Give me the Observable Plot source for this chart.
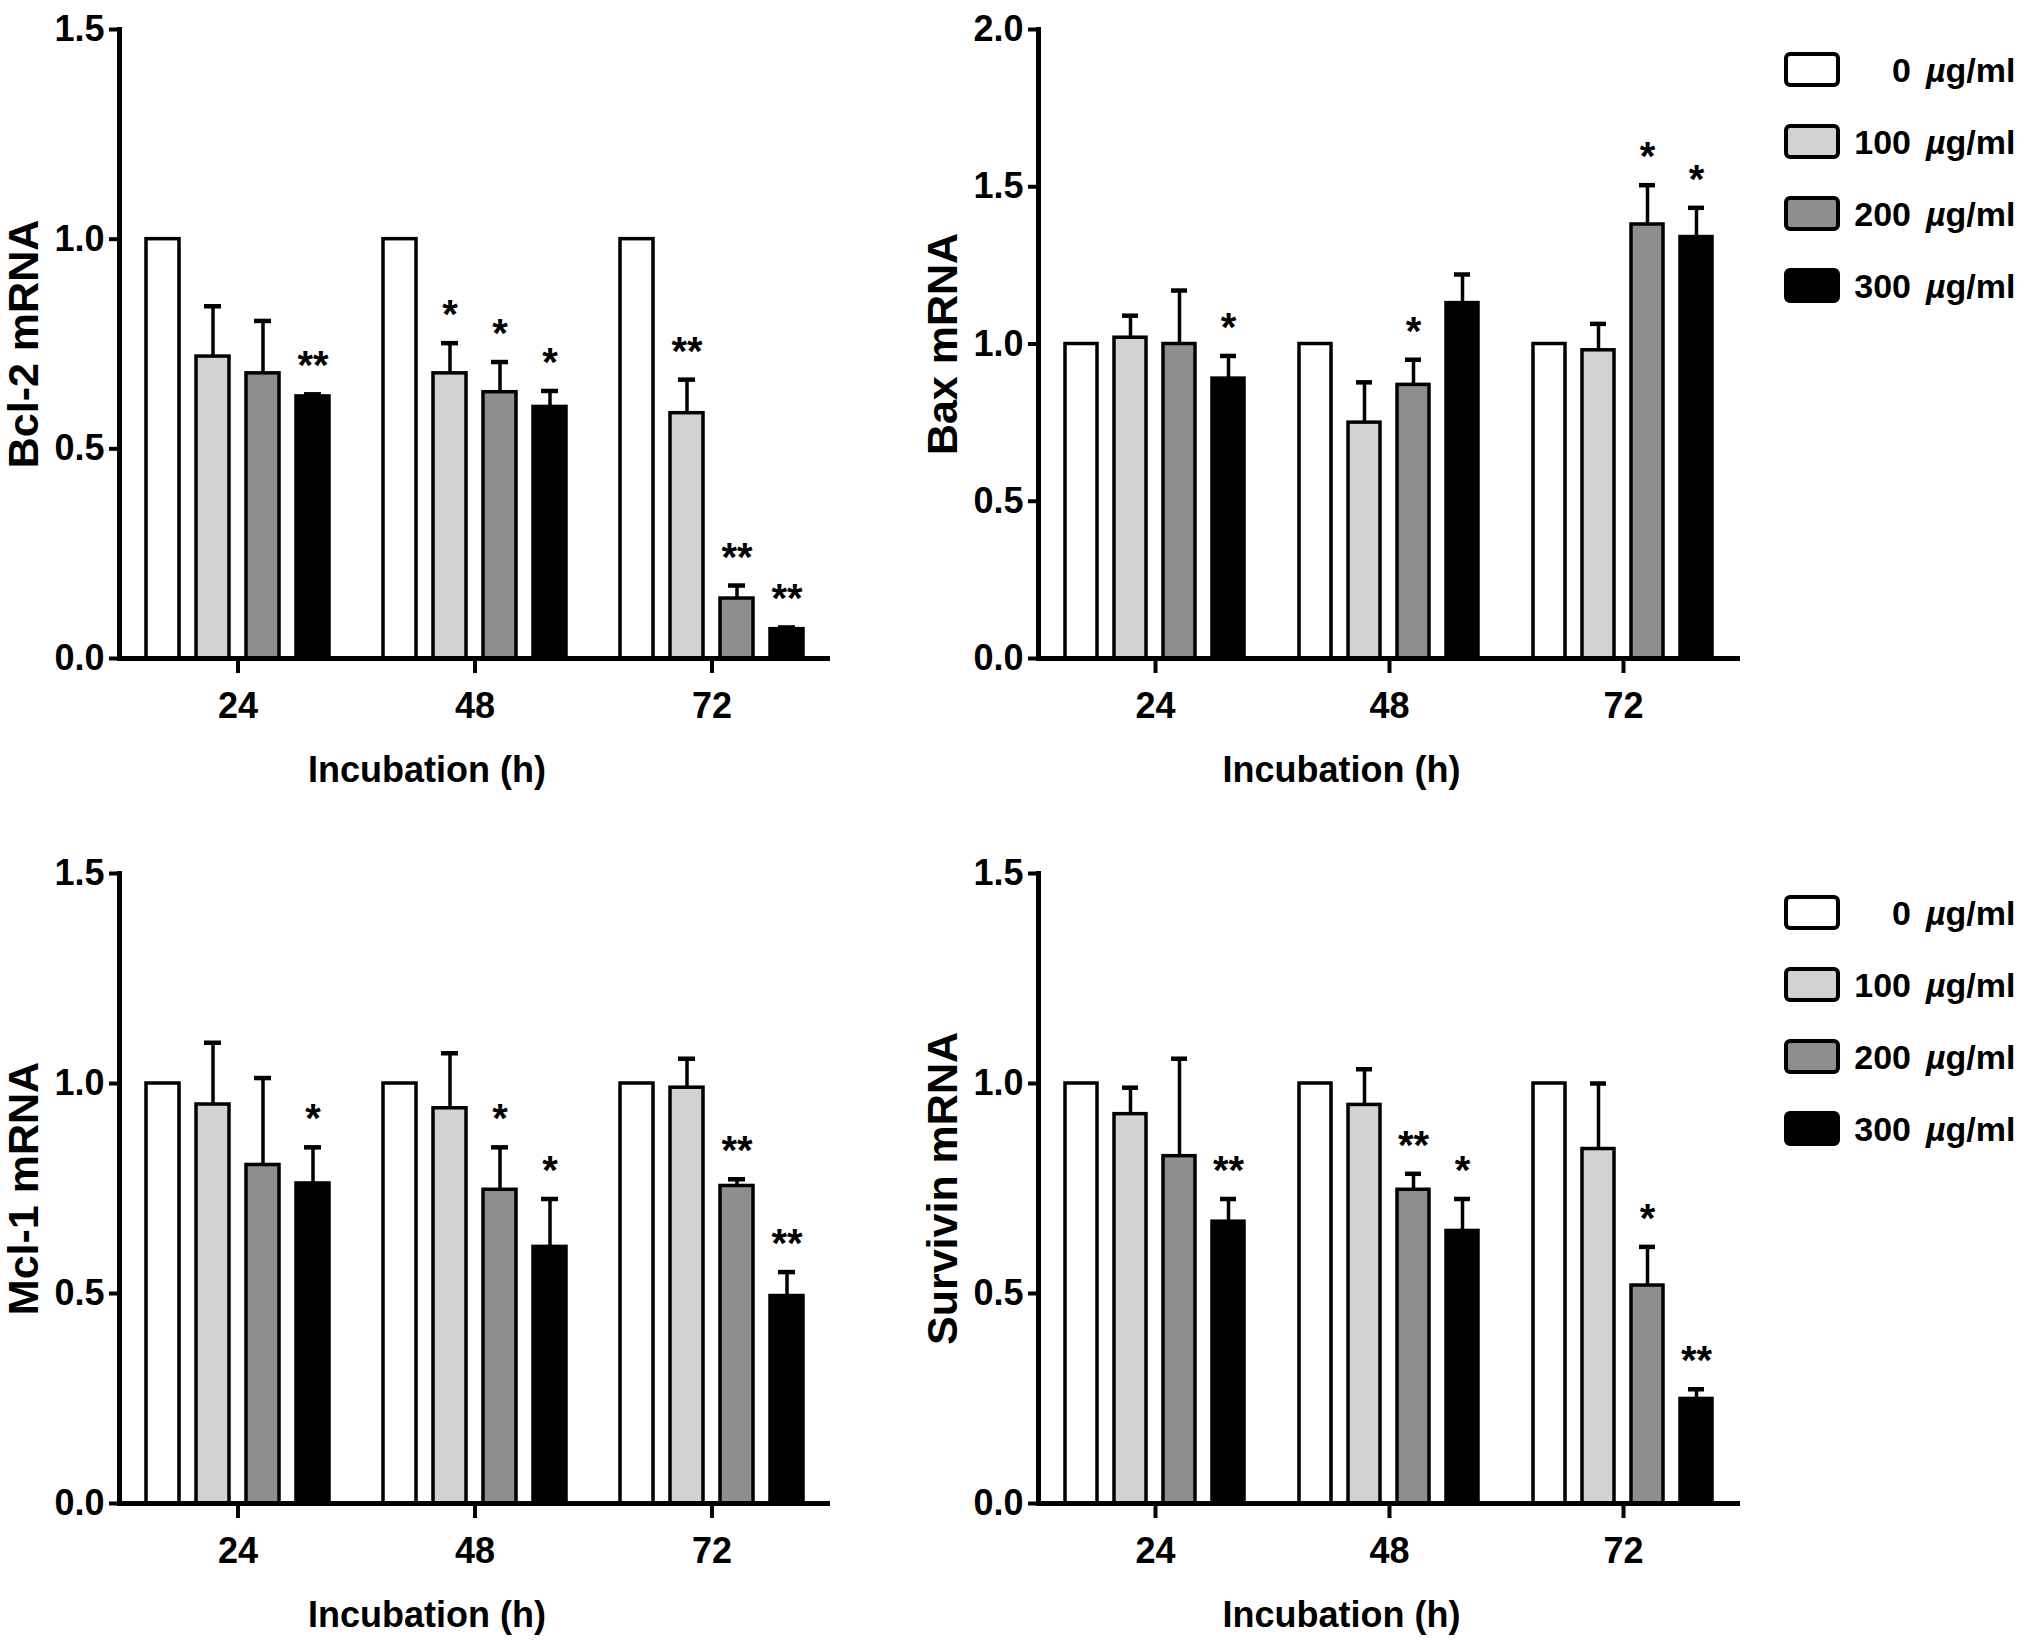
<!DOCTYPE html>
<html>
<head>
<meta charset="utf-8">
<script src="https://cdn.jsdelivr.net/npm/d3@7"></script>
<script src="https://cdn.jsdelivr.net/npm/@observablehq/plot@0.6"></script>
<style>
  body { margin: 0; background: #fff; }
  #page { position: relative; width: 2031px; height: 1652px; font-family: "Liberation Sans", Arial, sans-serif; }
  .panel { position: absolute; }
</style>
</head>
<body>
<div id="page"></div>
<script>
const times = [24, 48, 72]
const doses = ["0", "100", "200", "300"]
const doseFills = ["#ffffff", "#d2d2d2", "#8e8e8e", "#000000"]
const ticks15 = [0, 0.5, 1.0, 1.5]
const ticks20 = [0, 0.5, 1.0, 1.5, 2.0]

// rows = 24 / 48 / 72 h, columns = 0 / 100 / 200 / 300 ug/ml
const bcl2Mean = [[1, 0.72, 0.68, 0.625], [1, 0.68, 0.635, 0.60], [1, 0.585, 0.143, 0.07]]
const bcl2Err  = [[0, 0.12, 0.125, 0.005], [0, 0.072, 0.072, 0.038], [0, 0.08, 0.031, 0.004]]
const bcl2Sig  = [["", "", "", "**"], ["", "*", "*", "*"], ["", "**", "**", "**"]]

const baxMean = [[1, 1.02, 1.0, 0.89], [1, 0.75, 0.87, 1.13], [1, 0.98, 1.38, 1.34]]
const baxErr  = [[0, 0.07, 0.17, 0.072], [0, 0.128, 0.08, 0.091], [0, 0.084, 0.125, 0.093]]
const baxSig  = [["", "", "", "*"], ["", "", "*", ""], ["", "", "*", "*"]]

const mcl1Mean = [[1, 0.95, 0.806, 0.762], [1, 0.941, 0.747, 0.611], [1, 0.99, 0.756, 0.494]]
const mcl1Err  = [[0, 0.147, 0.207, 0.086], [0, 0.131, 0.101, 0.114], [0, 0.069, 0.016, 0.057]]
const mcl1Sig  = [["", "", "", "*"], ["", "", "*", "*"], ["", "", "**", "**"]]

const survMean = [[1, 0.927, 0.827, 0.671], [1, 0.949, 0.747, 0.649], [1, 0.844, 0.519, 0.249]]
const survErr  = [[0, 0.063, 0.232, 0.054], [0, 0.085, 0.038, 0.076], [0, 0.156, 0.092, 0.023]]
const survSig  = [["", "", "", "**"], ["", "", "**", "*"], ["", "", "*", "**"]]

const page = d3.select('#page')
const bold = {fontWeight: "bold"}

function panel(gene, mean, err, sig, yTicks, left, top, marginTop, marginBottom, width) {
  const rows = []
  times.forEach((t, i) => doses.forEach((d, j) => rows.push({
    time: t, dose: d, value: mean[i][j], err: err[i][j], sig: sig[i][j]
  })))
  const withErr = rows.filter(d => d.err > 0)
  const upper = d => d.value + d.err

  const chart = Plot.plot({
    width: width,
    height: 826,
    marginLeft: 118,
    marginRight: width - 118 - (width === 840 ? 713 : 702),
    marginTop: marginTop,
    marginBottom: marginBottom,
    style: {fontFamily: '"Liberation Sans", Arial, sans-serif', fontWeight: "bold", fontSize: "36px", color: "black", background: "transparent", overflow: "visible"},
    fx: {domain: times, paddingInner: 0, paddingOuter: 0},
    x: {domain: doses, paddingInner: 0.34, paddingOuter: 0.53, axis: null},
    y: {domain: [0, d3.max(yTicks)]},
    color: {domain: doses, range: doseFills},
    marks: [
      Plot.barY(rows, {fx: "time", x: "dose", y: "value", fill: "dose", stroke: "black", strokeWidth: 3.5}),
      Plot.ruleX(withErr, {fx: "time", x: "dose", y1: "value", y2: upper, stroke: "black", strokeWidth: 3.5}),
      Plot.tickY(withErr, {fx: "time", x: "dose", y: upper, stroke: "black", strokeWidth: 4.5, insetLeft: 8, insetRight: 8}),
      Plot.text(rows.filter(d => d.sig), {fx: "time", x: "dose", y: upper, text: "sig", lineAnchor: "bottom", dy: -15, fontSize: 40, ...bold}),
      Plot.ruleY([0], {stroke: "black", strokeWidth: 5}),
      Plot.frame({anchor: "left", facetAnchor: "left", stroke: "black", strokeWidth: 5}),
      Plot.axisY({ticks: yTicks, tickFormat: ".1f", tickSize: 10, tickPadding: 5, strokeWidth: 4, label: null, fontSize: 36, ...bold}),
      Plot.axisFx({anchor: "bottom", tickSize: 15, tickPadding: 19, strokeWidth: 4, label: null, fontSize: 36, ...bold}),
      Plot.text([{time: times[0], label: gene}], {fx: "time", text: "label", frameAnchor: "left", textAnchor: "middle", lineAnchor: "middle", rotate: -90, dx: -95, fontSize: 43, ...bold}),
      Plot.text([{time: times[1], label: "Incubation (h)"}], {fx: "time", text: "label", frameAnchor: "bottom", textAnchor: "middle", lineAnchor: "middle", dx: -48, dy: 112, fontSize: 36, ...bold})
    ]
  })

  page.append('div').attr('class', 'panel')
    .style('left', left + 'px').style('top', top + 'px')
    .append(() => chart)
}

function legend(top) {
  const svg = page.append('svg').attr('class', 'panel')
    .style('left', '1760px').style('top', top + 'px')
    .attr('width', 271).attr('height', 290)
  const row = svg.selectAll('g').data(doses).join('g')
    .attr('transform', (d, i) => `translate(0,${16 + i * 72})`)
  row.append('rect')
    .attr('x', 26).attr('y', 0).attr('width', 52).attr('height', 31).attr('rx', 4)
    .attr('fill', (d, i) => doseFills[i]).attr('stroke', 'black').attr('stroke-width', 4)
  row.append('text')
    .attr('x', 151).attr('y', 28).attr('text-anchor', 'end')
    .attr('font-size', 34).attr('font-weight', 'bold')
    .attr('font-family', '"Liberation Sans", Arial, sans-serif')
    .text(d => d)
  const unit = row.append('text')
    .attr('x', 166).attr('y', 28)
    .attr('font-size', 34).attr('font-weight', 'bold')
    .attr('font-family', '"Liberation Sans", Arial, sans-serif')
  unit.append('tspan').attr('font-style', 'italic').text('\u00b5')
  unit.append('tspan').text('g/ml')
}

panel("Bcl-2 mRNA", bcl2Mean, bcl2Err, bcl2Sig, ticks15, 0, 0, 29, 168, 840)
panel("Bax mRNA", baxMean, baxErr, baxSig, ticks20, 920, 0, 29, 168, 830)
panel("Mcl-1 mRNA", mcl1Mean, mcl1Err, mcl1Sig, ticks15, 0, 826, 47, 149, 840)
panel("Survivin mRNA", survMean, survErr, survSig, ticks15, 920, 826, 47, 149, 830)
legend(38)
legend(881)
</script>
</body>
</html>
